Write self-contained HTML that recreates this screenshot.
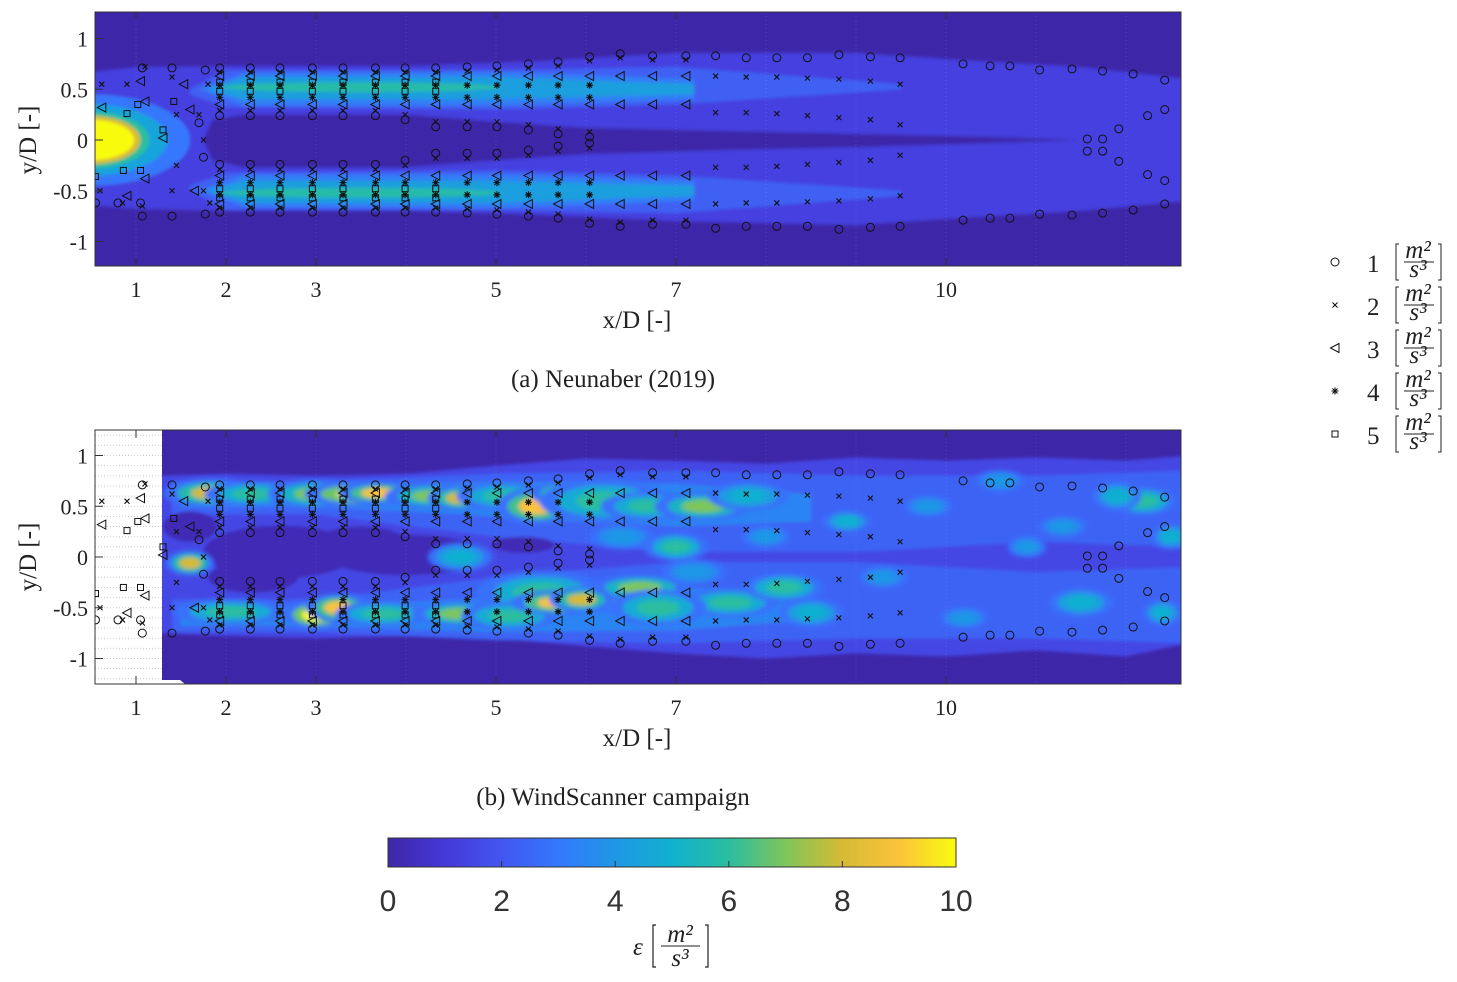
<!DOCTYPE html>
<html><head><meta charset="utf-8">
<style>
html,body{margin:0;padding:0;background:#fff;}
svg{display:block;}
.tk{font-family:"Liberation Serif",serif;font-size:22px;fill:#222;}
.lab{font-family:"Liberation Serif",serif;font-size:25px;fill:#222;}
.cb{font-family:"Liberation Sans",sans-serif;font-size:30px;fill:#333;}
</style></head>
<body>
<svg id="fig" width="1457" height="982" viewBox="0 0 1457 982" xmlns="http://www.w3.org/2000/svg">
<defs>
<filter id="blr" x="-20%" y="-50%" width="140%" height="200%"><feGaussianBlur stdDeviation="1.5"/></filter>
<filter id="blr2" x="-50%" y="-50%" width="200%" height="200%"><feGaussianBlur stdDeviation="2.5"/></filter>
<clipPath id="clipA"><rect x="95" y="12" width="1086" height="254"/></clipPath>
<clipPath id="clipB"><rect x="95" y="430" width="1086" height="254"/></clipPath>
<clipPath id="clipB2"><rect x="162" y="430" width="1019" height="254"/></clipPath>
<linearGradient id="parula" x1="0" x2="1" y1="0" y2="0">
<stop offset="0" stop-color="#3e26a8"/><stop offset="0.1" stop-color="#4538d7"/>
<stop offset="0.2" stop-color="#4356f0"/><stop offset="0.3" stop-color="#3478fd"/>
<stop offset="0.4" stop-color="#1f97e5"/><stop offset="0.5" stop-color="#10b1cf"/>
<stop offset="0.6" stop-color="#2bbda0"/><stop offset="0.7" stop-color="#7ec65a"/>
<stop offset="0.8" stop-color="#d7ba35"/><stop offset="0.9" stop-color="#fbc33a"/>
<stop offset="1" stop-color="#f9fb0e"/></linearGradient>
</defs>
<g id="panelA"></g>
<g id="panelB"></g>
<g id="legend"></g>
<g id="cbar"></g>
</svg>
<script>
// ---- data ----
const xTicks=[1,2,3,5,7,10];
const yTicks=[1,0.5,0,-0.5,-1];
const yTickLabels=["1","0.5","0","-0.5","-1"];
const cbTicks=[0,2,4,6,8,10];
const colX=[1.93,2.27,2.6,2.96,3.3,3.66,3.99,4.33,4.68,5.01,5.36,5.69,6.04,6.38,6.74,7.11];
const colTopCircle=[0.71,0.71,0.71,0.71,0.71,0.71,0.71,0.71,0.72,0.73,0.75,0.77,0.82,0.85,0.83,0.83];
const colInnerCircle=[0.24,0.24,0.24,0.24,0.24,0.24,0.2,0.13,0.13,0.13,0.1,0.06,0.03,null,null,null];
const squareCols=[1.93,2.27,2.6,2.96,3.3,3.66,3.99,4.33];
const starCols=[1.93,2.27,2.6,2.96,3.3,3.66,3.99,4.33,4.68,5.01,5.36,5.69,6.04];
const outerCircX=[1.07,1.4,1.77,7.44,7.78,8.12,8.46,8.81,9.16,9.49,10.19,10.49,10.71,11.04,11.4,11.74,12.08,12.43];
const outerCircY=[0.71,0.71,0.69,0.83,0.81,0.81,0.81,0.84,0.82,0.81,0.75,0.73,0.73,0.69,0.7,0.68,0.65,0.59];
const innerCircX=[11.57,11.74,11.92,12.24,12.43];
const innerCircY=[0.01,0.01,0.11,0.24,0.3];
const farXX=[7.44,7.78,8.12,8.46,8.81,9.16,9.49];
const farXOuter=[0.63,0.62,0.62,0.61,0.6,0.58,0.55];
const farXInner=[0.27,0.27,0.26,0.24,0.22,0.2,0.15];
const nearMk=[["c",0.55,-0.62],["x",0.62,0.55],["x",0.6,-0.5],["t",0.62,0.32],["s",0.55,-0.36],["s",0.9,0.26],["t",0.9,-0.55],["x",0.85,-0.62],["s",0.86,-0.3],["x",1.1,0.72],["t",1.05,0.58],["x",1.07,-0.65],["c",0.8,-0.62],["x",0.9,0.55],["s",1.02,0.35],["s",1.3,0.1],["s",1.05,-0.3],["x",1.4,0.62],["x",1.4,-0.5],["t",1.1,0.38],["t",1.1,-0.38],["t",1.3,0.02],["t",1.53,0.55],["t",1.65,-0.5],["x",1.45,0.25],["x",1.45,-0.25],["x",1.75,0.0],["x",1.7,0.25],["x",1.75,-0.5],["c",1.7,0.17],["c",1.75,-0.17],["c",1.05,-0.62],["s",1.42,0.38],["t",1.6,0.3],["x",1.8,0.55],["x",1.82,-0.62]];
const hotX=[1.85,2.3,3.0,3.5,3.7,4.3,4.6,5.1,5.45,5.75,6.2,6.7,7.3,5.5,6.1,6.4,1.6,2.05,3.0,3.25,3.75,4.6,5.15,5.7,5.95,6.6,7.6,8.2,4.6,7.0,12.2,11.9,8.9,6.8,7.8,8.5,9.8,10.6,11.3,12.5,9.3,10.2,11.5,12.4,8.0,10.9,7.2,6.4];
const hotY=[0.63,0.62,0.62,0.62,0.63,0.6,0.58,0.6,0.5,0.62,0.55,0.5,0.5,-0.35,-0.42,-0.4,-0.06,-0.54,-0.57,-0.5,-0.56,-0.56,-0.58,-0.45,-0.42,-0.3,-0.45,-0.3,0.0,0.1,0.55,0.6,0.35,-0.5,0.6,-0.55,0.5,0.75,0.3,0.2,-0.2,-0.6,-0.45,-0.55,0.2,0.1,-0.15,0.2];
const hotV=[8,6,7,10,9,7,8,6,9,8,6,6,7,6,9,7,8,6,10,9,6,7,6,9,8,7,6,6,5,6,6,5,5,6,5,5,4,4,4,5,4,4,5,5,4,4,4,4];
const hotRX=[0.3,0.3,0.3,0.35,0.25,0.3,0.2,0.3,0.25,0.2,0.4,0.3,0.3,0.4,0.25,0.3,0.15,0.35,0.2,0.2,0.3,0.3,0.3,0.3,0.2,0.3,0.3,0.25,0.2,0.2,0.2,0.15,0.15,0.3,0.25,0.2,0.15,0.15,0.15,0.12,0.15,0.15,0.2,0.12,0.15,0.12,0.2,0.2];
const hotRY=[0.08,0.07,0.08,0.07,0.06,0.07,0.07,0.08,0.1,0.07,0.12,0.08,0.08,0.12,0.07,0.08,0.07,0.07,0.08,0.08,0.07,0.07,0.08,0.07,0.07,0.07,0.08,0.08,0.08,0.08,0.08,0.08,0.06,0.1,0.08,0.08,0.06,0.06,0.06,0.07,0.06,0.06,0.08,0.07,0.06,0.06,0.07,0.07];
const legendLabels=["1","2","3","4","5"];
const legendMarkers=["c","x","t","s2","s"];

// ---- helpers ----
const NS="http://www.w3.org/2000/svg";
function mk(tag,attrs,parent){const e=document.createElementNS(NS,tag);for(const k in attrs)e.setAttribute(k,attrs[k]);parent.appendChild(e);return e;}
const sx=v=>46+90*v;
const syA=v=>140-101.5*v;
const syB=v=>557-101.5*v;
const stops=[[0,62,38,168],[1,69,56,215],[2,67,86,240],[3,52,120,253],[4,31,151,229],[5,16,177,207],[6,43,189,160],[7,126,198,90],[8,215,186,53],[9,251,195,58],[10,249,251,14]];
function parula(v){v=Math.max(0,Math.min(10,v));const i=Math.min(9,Math.floor(v));const f=v-i;const a=stops[i],b=stops[i+1];return `rgb(${Math.round(a[1]+(b[1]-a[1])*f)},${Math.round(a[2]+(b[2]-a[2])*f)},${Math.round(a[3]+(b[3]-a[3])*f)})`;}

function marker(g,type,px,py){
  let e;
  if(type==="c"){e=mk("circle",{cx:px,cy:py,r:4,fill:"none",stroke:"#111","stroke-width":1},g);}
  else if(type==="x"){e=mk("path",{d:`M${px-2.5},${py-2.5}L${px+2.5},${py+2.5}M${px-2.5},${py+2.5}L${px+2.5},${py-2.5}`,stroke:"#111","stroke-width":1.1},g);}
  else if(type==="t"){e=mk("path",{d:`M${px-4.5},${py}L${px+4},${py-4.5}L${px+4},${py+4.5}Z`,fill:"none",stroke:"#111","stroke-width":1},g);}
  else if(type==="s2"){e=mk("path",{d:`M${px-3.5},${py}L${px+3.5},${py}M${px},${py-3.5}L${px},${py+3.5}M${px-2.5},${py-2.5}L${px+2.5},${py+2.5}M${px-2.5},${py+2.5}L${px+2.5},${py-2.5}`,stroke:"#111","stroke-width":1.1},g);}
  else {e=mk("rect",{x:px-3,y:py-3,width:6,height:6,fill:"none",stroke:"#111","stroke-width":1},g);}
  
  
}

function drawMarkers(g,sy){
  colX.forEach((x,i)=>{
    const px=sx(x);
    [1,-1].forEach(s=>{
      marker(g,"c",px,sy(s*colTopCircle[i]));
      marker(g,"x",px,sy(s*(colTopCircle[i]-0.04)));
      marker(g,"t",px,sy(s*0.63));
      if(colInnerCircle[i]!==null){marker(g,"c",px,sy(s*colInnerCircle[i]));marker(g,"x",px,sy(s*(colInnerCircle[i]+0.05)));}
      marker(g,"t",px,sy(s*0.35));
    });
  });
  squareCols.forEach(x=>{[1,-1].forEach(s=>{marker(g,"s",sx(x),sy(s*0.57));marker(g,"s",sx(x),sy(s*0.48));});});
  starCols.forEach(x=>{[1,-1].forEach(s=>{marker(g,"s2",sx(x),sy(s*0.54));marker(g,"s2",sx(x),sy(s*0.42));});});
  outerCircX.forEach((x,i)=>{marker(g,"c",sx(x),sy(outerCircY[i]));marker(g,"c",sx(x),sy(-outerCircY[i]-0.04));});
  innerCircX.forEach((x,i)=>{marker(g,"c",sx(x),sy(innerCircY[i]));marker(g,"c",sx(x),sy(-innerCircY[i]-0.1));});
  farXX.forEach((x,i)=>{[1,-1].forEach(s=>{marker(g,"x",sx(x),sy(s*farXOuter[i]));marker(g,"x",sx(x),sy(s*farXInner[i]));});});
  nearMk.forEach(m=>marker(g,m[0],sx(m[1]),sy(m[2])));
}

function axes(g,top,sy){
  const x0=95,x1=1181,y0=top,y1=top+254;
  for(let v=1;v<=12;v++){const l=mk("line",{x1:sx(v),x2:sx(v),y1:y0,y2:y1,stroke:"#fff","stroke-opacity":0.12,"stroke-dasharray":"1 3"},g);}
  const box=mk("rect",{x:x0,y:y0,width:x1-x0,height:254,fill:"none",stroke:"#333","stroke-width":1},g);
  
  xTicks.forEach(v=>{
    mk("line",{x1:sx(v),x2:sx(v),y1:y0,y2:y0+8,stroke:"#333"},g);
    mk("line",{x1:sx(v),x2:sx(v),y1:y1,y2:y1-8,stroke:"#333"},g);
    const t=mk("text",{x:sx(v),y:y1+31,"text-anchor":"middle",class:"tk"},g);t.textContent=v;
    
  });
  yTicks.forEach((v,i)=>{
    mk("line",{x1:x0,x2:x0+8,y1:sy(v),y2:sy(v),stroke:"#333"},g);
    const t=mk("text",{x:88,y:sy(v)+8,"text-anchor":"end",class:"tk"},g);t.textContent=yTickLabels[i];
    
  });
  const xl=mk("text",{x:637,y:y1+62,"text-anchor":"middle",class:"lab"},g);xl.textContent="x/D [-]";
  
  const yc=sy(0);
  const yl=mk("text",{x:36,y:yc,"text-anchor":"middle",class:"lab",transform:`rotate(-90 36 ${yc})`},g);yl.textContent="y/D [-]";
  
}

function pathFrom(xs,ys,sy){return xs.map((x,i)=>(i?"L":"M")+sx(x)+","+sy(ys[i])).join("")+"Z";}

// ---- panel A ----
(function(){
  const g=document.getElementById("panelA");
  const c=mk("g",{"clip-path":"url(#clipA)"},g);
  const bg=mk("rect",{x:95,y:12,width:1086,height:254,fill:parula(0)},c);
  
  const f=mk("g",{filter:"url(#blr)"},c);
  const ex=[0.4,1,2,4,5.5,7,9,10,11.5,12.7,12.7,11.5,10,9,7,5.5,4,2,1,0.4];
  const ey=[0.66,0.72,0.73,0.73,0.78,0.86,0.86,0.8,0.72,0.6,-0.6,-0.7,-0.78,-0.84,-0.8,-0.74,-0.7,-0.7,-0.68,-0.64];
  let p=mk("path",{d:pathFrom(ex,ey,syA),fill:parula(1.3)},f);
  [1,-1].forEach(s=>{
    const bx=[1.6,2,5,7,9.5,9.5,7,5,2,1.6];
    const by=[0.5,0.69,0.69,0.72,0.55,0.5,0.35,0.3,0.32,0.45].map(v=>v*s);
    const b=mk("path",{d:pathFrom(bx,by,syA),fill:parula(2.3)},f);
    const b3x=[1.7,2.2,5,7.2,7.2,5,2.2,1.7];
    const b3y=[0.5,0.66,0.67,0.6,0.4,0.34,0.34,0.5].map(v=>v*s);
    const b3=mk("path",{d:pathFrom(b3x,b3y,syA),fill:parula(3.2)},f);
    const cx=[1.8,2.2,5,7.2,7.2,5,2.2,1.8];
    const cy=[0.5,0.62,0.62,0.55,0.45,0.4,0.4,0.5].map(v=>v*s);
    const b2=mk("path",{d:pathFrom(cx,cy,syA),fill:parula(4.3)},f);
    const e=mk("ellipse",{cx:sx(3.5),cy:syA(0.52*s),rx:140,ry:5,fill:parula(5.8)},f);
  });
  const kx=[1.75,1.85,2.2,4,5,6,7.5,9,10.5,11.5,10.5,9,7.5,6,5,4,2.2,1.85];
  const ky=[0,0.2,0.25,0.25,0.18,0.12,0.09,0.06,0.03,0,-0.03,-0.07,-0.1,-0.14,-0.2,-0.27,-0.27,-0.2];
  p=mk("path",{d:pathFrom(kx,ky,syA),fill:parula(0)},f);
  [[1.6,0.45,3],[1.35,0.35,4.5],[1.15,0.28,6],[1.05,0.24,8],[0.98,0.2,10]].forEach(r=>{
    const e=mk("ellipse",{cx:sx(0.5),cy:syA(0),rx:sx(r[0])-sx(0.5),ry:101.5*r[1],fill:parula(r[2])},f);
    
  });
  const mg=mk("g",{},c);drawMarkers(mg,syA);
  axes(g,12,syA);
  const cap=mk("text",{x:613,y:387,"text-anchor":"middle",class:"lab"},g);cap.textContent="(a) Neunaber (2019)";
  
})();

// ---- panel B ----
(function(){
  const g=document.getElementById("panelB");
  const c=mk("g",{"clip-path":"url(#clipB)"},g);
  mk("rect",{x:95,y:430,width:1086,height:254,fill:"#fff"},c);
  for(let v=-1.2;v<=1.25;v+=0.1){mk("line",{x1:95,x2:162,y1:syB(v),y2:syB(v),stroke:"#ccc","stroke-dasharray":"1 2"},c);}
  const bg=mk("path",{d:"M162,430H1181V684H185L180,680H162Z",fill:parula(0)},c);
  
  const c2=mk("g",{"clip-path":"url(#clipB2)"},c);
  const f=mk("g",{filter:"url(#blr)"},c2);
  const ex=[1.2,2,3,4,5,6,7,8,9,10,11,12,12.7,12.7,12,11,10,9,8,7,6,5,4,3,2,1.2];
  const ey=[0.8,0.82,0.8,0.82,0.9,0.97,0.95,0.92,0.98,0.95,0.98,0.95,1.0,-0.85,-0.98,-0.92,-0.98,-0.95,-1.0,-0.95,-0.88,-0.8,-0.78,-0.8,-0.78,-0.75];
  let p=mk("path",{d:pathFrom(ex,ey,syB),fill:parula(1.5)},f);
  [1,-1].forEach(s=>{
    const bx=[1.4,3,5,7,9,11,12.7,12.7,11,9,7,5,3,1.4];
    const by=[0.74,0.74,0.82,0.85,0.8,0.8,0.85,0.1,0.15,0.05,0.05,0.2,0.42,0.42].map(v=>v*s);
    const b=mk("path",{d:pathFrom(bx,by,syB),fill:parula(2.4)},f);
    const cx=[1.5,3,5,7,8.5,8.5,7,5,3,1.5];
    const cy=[0.68,0.68,0.74,0.72,0.62,0.35,0.3,0.4,0.5,0.5].map(v=>v*s);
    const b2=mk("path",{d:pathFrom(cx,cy,syB),fill:parula(3.4)},f);
  });
  [[2.6,0.05,0.85,0.26],[3.5,0.15,0.5,0.15],[4.0,0.02,0.9,0.2],[2.3,-0.2,0.5,0.15],[1.6,0.3,0.3,0.15],[5.3,0.12,0.35,0.08]].forEach(r=>{
    const e=mk("ellipse",{cx:sx(r[0]),cy:syB(r[1]),rx:90*r[2],ry:101.5*r[3],fill:parula(0.3)},f);
    
  });
  const f2=mk("g",{filter:"url(#blr2)"},c2);
  hotX.forEach((x,i)=>{
    const v=hotV[i];
    [[1.8,2.8],[1.3,(3.5+v)/2],[0.8,v]].forEach(l=>{
      const e=mk("ellipse",{cx:sx(x),cy:syB(hotY[i]),rx:90*hotRX[i]*l[0],ry:101.5*hotRY[i]*l[0],fill:parula(l[1])},f2);
      
    });
  });
  const mg=mk("g",{},c);drawMarkers(mg,syB);
  axes(g,430,syB);
  const cap=mk("text",{x:613,y:805,"text-anchor":"middle",class:"lab"},g);cap.textContent="(b) WindScanner campaign";
  
})();

// ---- legend ----
(function(){
  const g=document.getElementById("legend");
  legendLabels.forEach((l,i)=>{
    const y=262+43*i;
    const it=mk("g",{},g);
    
    marker(it,legendMarkers[i],1335,y);
    const t=mk("text",{x:1367,y:y+10,class:"lab","font-size":"27"},it);t.textContent=l;
    mk("path",{d:`M1399,${y-18}h-3v36h3M1438,${y-18}h3v36h-3`,fill:"none",stroke:"#222","stroke-width":1},it);
    const n=mk("text",{x:1418,y:y-4,"text-anchor":"middle",class:"lab","font-size":"17","font-style":"italic"},it);n.textContent="m²";
    mk("line",{x1:1404,x2:1434,y1:y,y2:y,stroke:"#222"},it);
    const d=mk("text",{x:1418,y:y+15,"text-anchor":"middle",class:"lab","font-size":"17","font-style":"italic"},it);d.textContent="s³";
  });
})();

// ---- colorbar ----
(function(){
  const g=document.getElementById("cbar");
  const cx=v=>388+56.8*v;
  const r=mk("rect",{x:388,y:838,width:568,height:29,fill:"url(#parula)",stroke:"#333","stroke-width":1},g);
  
  cbTicks.forEach(v=>{
    mk("line",{x1:cx(v),x2:cx(v),y1:867,y2:861,stroke:"#333"},g);
    const t=mk("text",{x:cx(v),y:911,"text-anchor":"middle",class:"cb"},g);t.textContent=v;
    
  });
  const lab=mk("g",{},g);
  const e=mk("text",{x:633,y:955,class:"lab","font-size":"28","font-style":"italic"},lab);e.textContent="ε";
  mk("path",{d:"M656,925h-3v42h3M705,925h3v42h-3",fill:"none",stroke:"#222","stroke-width":1.2},lab);
  const n=mk("text",{x:680,y:942,"text-anchor":"middle",class:"lab","font-size":"21","font-style":"italic"},lab);n.textContent="m²";
  mk("line",{x1:661,x2:700,y1:946,y2:946,stroke:"#222"},lab);
  const d=mk("text",{x:680,y:966,"text-anchor":"middle",class:"lab","font-size":"21","font-style":"italic"},lab);d.textContent="s³";
})();
</script>
</body></html>
